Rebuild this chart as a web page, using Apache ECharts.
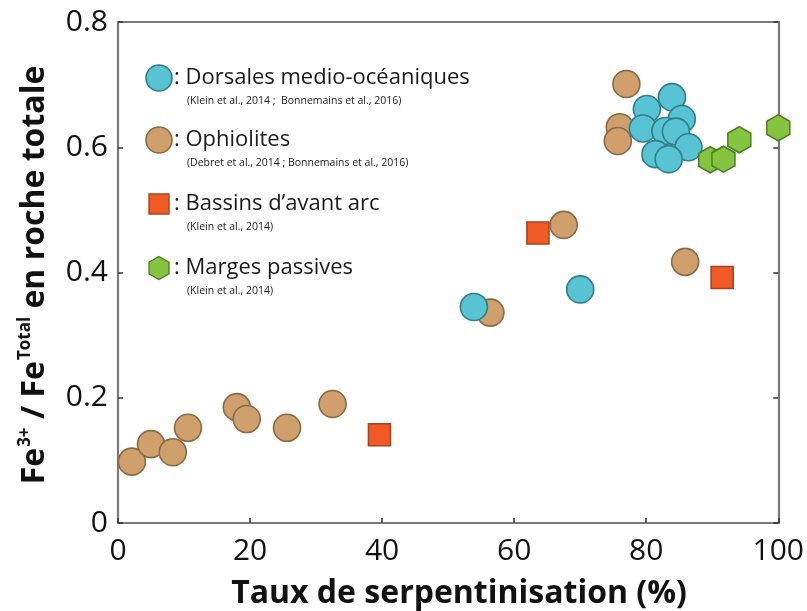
<!DOCTYPE html>
<html>
<head>
<meta charset="utf-8">
<script src="https://cdn.jsdelivr.net/npm/echarts@6/dist/echarts.min.js"></script>
<style>
  html, body { margin: 0; padding: 0; background: #ffffff; }
  #chart { width: 807px; height: 611px; }
</style>
</head>
<body>
<div id="chart"></div>
<script>
// Serpentinisation rate (%) vs whole-rock Fe3+/FeTotal, by geological setting
var dorsales = [
  [53.9, 0.345], [70.0, 0.373],
  [80.1, 0.661], [83.9, 0.680], [79.5, 0.630], [85.4, 0.645],
  [82.9, 0.626], [84.5, 0.625], [86.4, 0.600], [81.4, 0.589], [83.4, 0.581]
];
var ophiolites = [
  [2.1, 0.098], [5.0, 0.126], [8.3, 0.113], [10.6, 0.152],
  [18.0, 0.185], [19.5, 0.166], [25.6, 0.152], [32.5, 0.190],
  [56.4, 0.336], [67.5, 0.476], [85.9, 0.417],
  [77.0, 0.701], [76.0, 0.632], [75.7, 0.610]
];
var bassins = [
  [39.6, 0.141], [63.6, 0.463], [91.5, 0.392]
];
var marges = [
  [89.7, 0.580], [91.7, 0.581], [94.1, 0.612], [100.0, 0.631]
];

var xTicks = [0, 20, 40, 60, 80, 100];
var yTicks = [0, 0.2, 0.4, 0.6, 0.8];

var legendItems = [
  { name: ': Dorsales medio-océaniques', ref: '(Klein et al., 2014 ;  Bonnemains et al., 2016)' },
  { name: ': Ophiolites', ref: '(Debret et al., 2014 ; Bonnemains et al., 2016)' },
  { name: ': Bassins d\u2019avant arc', ref: '(Klein et al., 2014)' },
  { name: ': Marges passives', ref: '(Klein et al., 2014)' }
];

var COL = {
  cyan:  { fill: '#58c3d3', line: '#2f7f8c' },
  tan:   { fill: '#cfa06c', line: '#8a6a44' },
  red:   { fill: '#f15a24', line: '#a8431f' },
  green: { fill: '#86c440', line: '#4d7f25' }
};
var HEX = 'path://M0,-1 L0.866,-0.5 L0.866,0.5 L0,1 L-0.866,0.5 L-0.866,-0.5 Z';
var FONT = '"Open Sans", "Noto Sans", sans-serif';
var AXIS_COLOR = '#7a7a7a';

var chart = echarts.init(document.getElementById('chart'), null, { renderer: 'canvas' });

function scatter(name, data, symbol, size, c) {
  return {
    name: name, type: 'scatter', data: data, symbol: symbol, symbolSize: size,
    itemStyle: { color: c.fill, borderColor: c.line, borderWidth: 1.6, opacity: 1 },
    emphasis: { disabled: true }
  };
}

// legend drawn as graphic blocks: symbol, name and reference line
var legendGraphics = [];
var rowY = [78, 140, 204, 268];
var symX = 159;
var symDefs = [
  { type: 'circle', c: COL.cyan },
  { type: 'circle', c: COL.tan },
  { type: 'rect', c: COL.red },
  { type: 'hex', c: COL.green }
];
legendItems.forEach(function (it, i) {
  var y = rowY[i];
  var s = symDefs[i];
  var shape;
  if (s.type === 'circle') {
    shape = { type: 'circle', shape: { cx: symX, cy: y, r: 13 },
      style: { fill: s.c.fill, stroke: s.c.line, lineWidth: 1.6 } };
  } else if (s.type === 'rect') {
    shape = { type: 'rect', shape: { x: symX - 10, y: y - 10, width: 20, height: 20 },
      style: { fill: s.c.fill, stroke: s.c.line, lineWidth: 1.4 } };
  } else {
    var r = 11.5, pts = [];
    for (var k = 0; k < 6; k++) {
      var a = -Math.PI / 2 + k * Math.PI / 3;
      pts.push([symX + r * Math.cos(a), y + r * Math.sin(a)]);
    }
    shape = { type: 'polygon', shape: { points: pts },
      style: { fill: s.c.fill, stroke: s.c.line, lineWidth: 1.4 } };
  }
  legendGraphics.push(shape);
  legendGraphics.push({
    type: 'text', x: 174, y: y,
    style: { text: it.name, fill: '#1a1a1a', font: '22px ' + FONT,
      textAlign: 'left', textVerticalAlign: 'middle' }
  });
  legendGraphics.push({
    type: 'text', x: 187, y: y + 23,
    style: { text: it.ref, fill: '#1a1a1a', font: '10.5px ' + FONT,
      textAlign: 'left', textVerticalAlign: 'middle' }
  });
});

var option = {
  backgroundColor: '#ffffff',
  animation: false,
  grid: { left: 118, top: 22, width: 661, height: 501, containLabel: false },
  xAxis: [{
    type: 'value', min: 0, max: 100, interval: 20,
    axisLine: { show: true, onZero: false, lineStyle: { color: AXIS_COLOR, width: 2.2 } },
    axisTick: { show: true, inside: true, length: 5, lineStyle: { color: '#333', width: 1.5 } },
    axisLabel: { color: '#111', fontSize: 30, fontFamily: FONT, margin: 13,
      formatter: function (v) { return xTicks.indexOf(v) >= 0 ? String(v) : ''; } },
    splitLine: { show: false }
  }, {
    type: 'value', position: 'top', min: 0, max: 100, interval: 20,
    axisLine: { show: true, onZero: false, lineStyle: { color: AXIS_COLOR, width: 2.2 } },
    axisTick: { show: false }, axisLabel: { show: false }, splitLine: { show: false }
  }],
  yAxis: [{
    type: 'value', min: 0, max: 0.8, interval: 0.2,
    axisLine: { show: true, onZero: false, lineStyle: { color: AXIS_COLOR, width: 2.2 } },
    axisTick: { show: true, inside: true, length: 5, lineStyle: { color: '#333', width: 1.5 } },
    axisLabel: { color: '#111', fontSize: 30, fontFamily: FONT, margin: 10,
      formatter: function (v) {
        var t = yTicks.filter(function (q) { return Math.abs(q - v) < 1e-9; });
        return t.length ? (v === 0 ? '0' : v.toFixed(1)) : '';
      } },
    splitLine: { show: false }
  }, {
    type: 'value', position: 'right', min: 0, max: 0.8, interval: 0.2,
    axisLine: { show: true, onZero: false, lineStyle: { color: AXIS_COLOR, width: 2.2 } },
    axisTick: { show: true, inside: true, length: 5, lineStyle: { color: '#333', width: 1.5 } },
    axisLabel: { show: false }, splitLine: { show: false }
  }],
  series: [
    scatter('Ophiolites', ophiolites, 'circle', 27, COL.tan),
    scatter('Dorsales', dorsales, 'circle', 27, COL.cyan),
    scatter('Bassins', bassins, 'rect', 22, COL.red),
    scatter('Marges', marges, HEX, [23, 26], COL.green)
  ],
  graphic: legendGraphics.concat([
    {
      type: 'text', x: 459, y: 594,
      style: { text: 'Taux de serpentinisation (%)', fill: '#111',
        font: 'bold 32px ' + FONT, textAlign: 'center', textVerticalAlign: 'middle' }
    },
    {
      type: 'text', x: 34, y: 275, rotation: Math.PI / 2,
      style: {
        text: '{b|Fe}{s|3+}{b| / Fe}{s|Total}{b| en roche totale}',
        textAlign: 'center', textVerticalAlign: 'middle', fill: '#111',
        rich: {
          b: { fontSize: 32, fontWeight: 'bold', fontFamily: FONT, fill: '#111', lineHeight: 34, verticalAlign: 'bottom' },
          s: { fontSize: 17, fontWeight: 'bold', fontFamily: FONT, fill: '#111', lineHeight: 18, verticalAlign: 'top', padding: [0, 0, 0, 1] }
        }
      }
    }
  ])
};

chart.setOption(option);
</script>
</body>
</html>
